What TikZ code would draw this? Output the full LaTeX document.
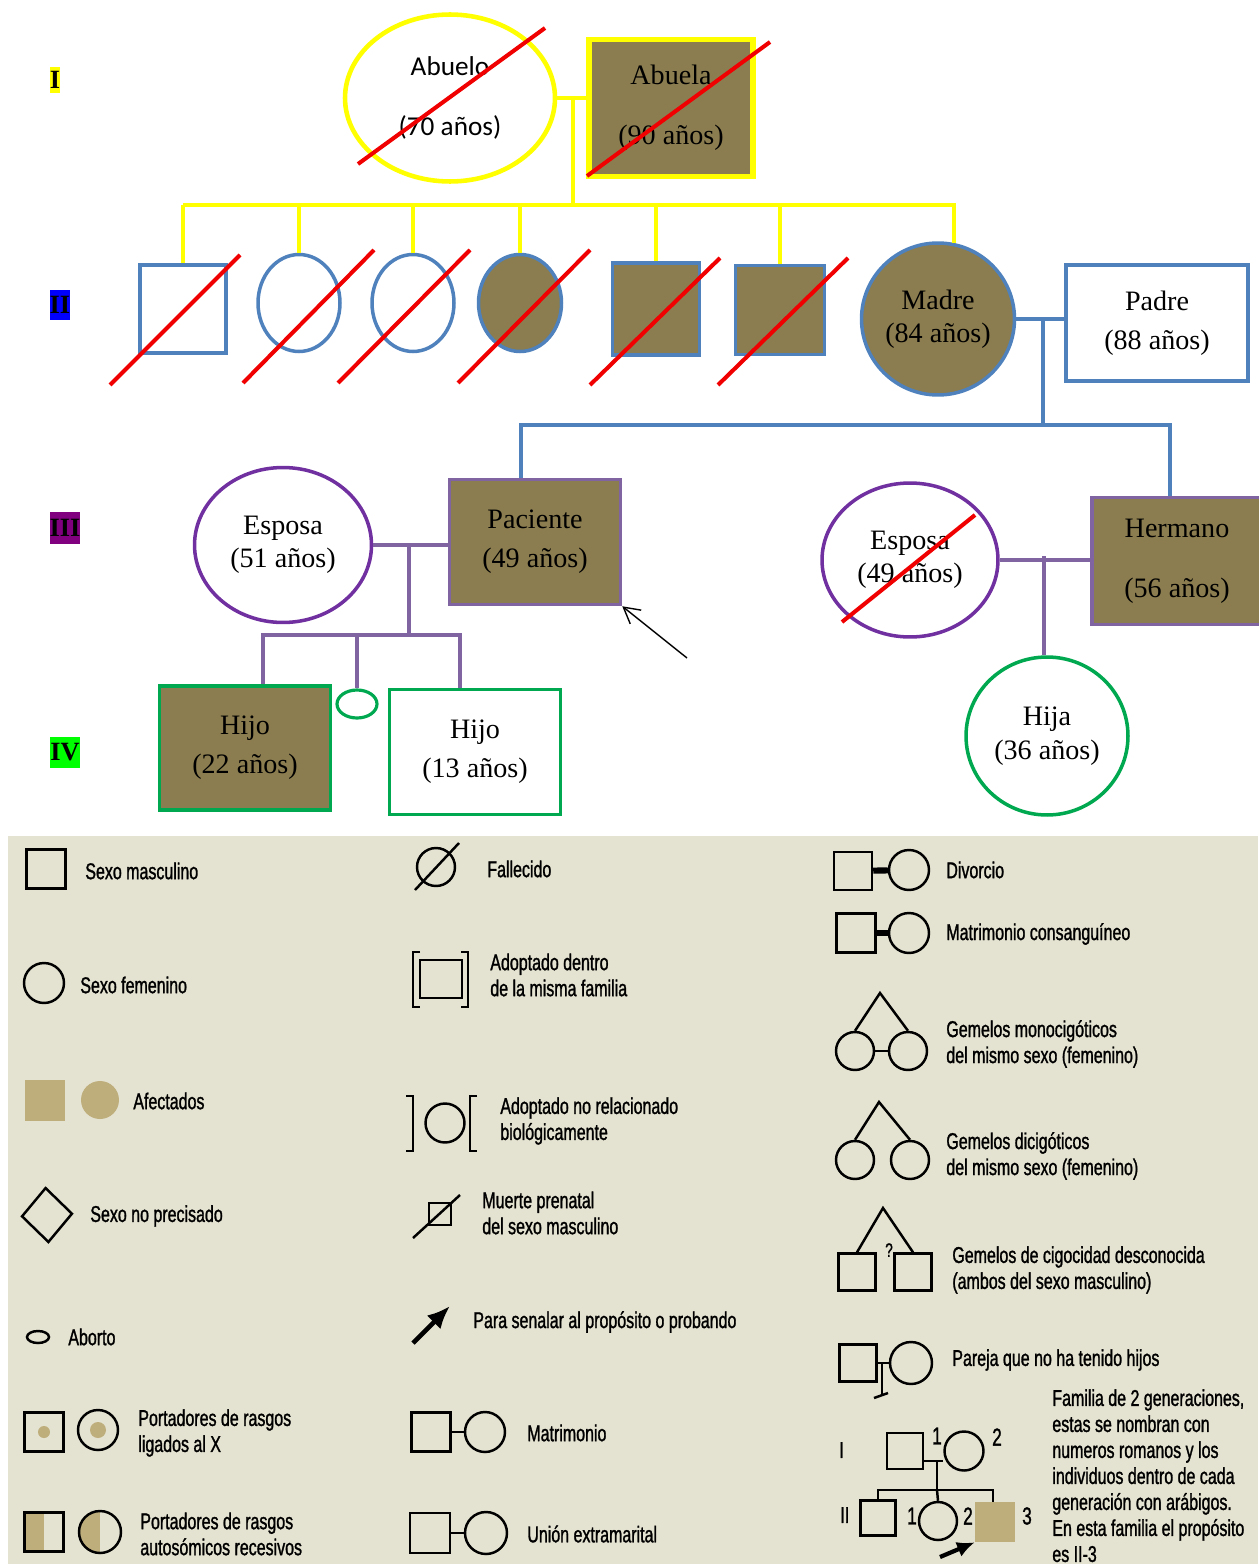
\documentclass[tikz,border=0pt]{standalone}
\usepackage{fontspec}
\usepackage{tikz}
\usetikzlibrary{positioning,arrows.meta,shapes.geometric,calc}
\newfontfamily\pedfont{Liberation Serif}
\newfontfamily\calfont{Carlito}
\newfontfamily\legfont[FakeStretch=0.7,FakeBold=1.2]{Liberation Sans}
\definecolor{affected}{HTML}{8B7D4F}
\definecolor{legtan}{HTML}{BEAE7C}
\definecolor{legbg}{HTML}{E4E2D0}
\definecolor{genone}{HTML}{FFFF00}
\definecolor{gentwo}{HTML}{4F81BD}
\definecolor{genthree}{HTML}{7030A0}
\definecolor{genthreeb}{HTML}{8064A2}
\definecolor{genfour}{HTML}{00A850}
\definecolor{deadred}{HTML}{F00000}
\definecolor{labpurple}{HTML}{800080}

\begin{document}
\begin{tikzpicture}[x=0.02cm, y=-0.02cm,
    person/.style={draw, line width=2pt, inner sep=0pt, align=center,
                   font={\pedfont\fontsize{16}{19}\selectfont}},
    sq/.style={person, rectangle},
    ov/.style={person, ellipse},
    dead/.style={deadred, line width=2.3pt},
    lnk/.style={line width=2.2pt},
    genlab/.style={inner sep=0pt, font={\pedfont\bfseries\fontsize{15}{18}\selectfont}},
    lsym/.style={draw, line width=1.4pt, inner sep=0pt},
    ltxt/.style={anchor=west, inner sep=0pt, align=left,
                 font={\legfont\fontsize{13}{14.8}\selectfont}}]
  \useasboundingbox (0,0) rectangle (1258,1564);

  % generation labels
  \node[genlab, fill=genone, minimum width=0.22cm, minimum height=0.52cm] (gI) at (55,80) {I};
  \node[genlab, fill=blue, minimum width=0.4cm, minimum height=0.6cm] (gII) at (60,305) {II};
  \node[genlab, fill=labpurple, minimum width=0.62cm, minimum height=0.64cm] (gIII) at (65,528) {III};
  \node[genlab, fill=green, minimum width=0.6cm, minimum height=0.62cm] (gIV) at (65,752) {IV};

  % generation I
  \node[ov, draw=genone, line width=2.6pt, minimum width=4.2cm, minimum height=3.34cm,
        font={\calfont\fontsize{15.5}{19}\selectfont}] (abuelo) at (450,98) {Abuelo\\[15pt](70 años)};
  \node[sq, draw=genone, fill=affected, line width=3pt, minimum width=3.28cm,
        minimum height=2.74cm] (abuela) at (671,108) {Abuela\\[15pt](90 años)};

  % generation II
  \node[sq, draw=gentwo, minimum width=1.72cm, minimum height=1.76cm] (ii1) at (183,309) {};
  \node[ov, draw=gentwo, minimum width=1.64cm, minimum height=1.94cm] (ii2) at (299,303) {};
  \node[ov, draw=gentwo, minimum width=1.64cm, minimum height=1.94cm] (ii3) at (413,303) {};
  \node[ov, draw=gentwo, fill=affected, minimum width=1.66cm, minimum height=1.94cm] (ii4) at (520,303) {};
  \node[sq, draw=gentwo, fill=affected, minimum width=1.74cm, minimum height=1.84cm] (ii5) at (656,309) {};
  \node[sq, draw=gentwo, fill=affected, minimum width=1.78cm, minimum height=1.78cm] (ii6) at (780,310) {};
  \node[ov, draw=gentwo, fill=affected, minimum width=3.06cm, minimum height=3.04cm] (madre) at (938,319) {Madre\\(84 años)};
  \node[sq, draw=gentwo, minimum width=3.64cm, minimum height=2.32cm] (padre) at (1157,323) {Padre\\[3pt](88 años)};

  % generation III
  \node[ov, draw=genthree, minimum width=3.54cm, minimum height=3.1cm] (esposa) at (283,545) {Esposa\\(51 años)};
  \node[sq, draw=genthreeb, fill=affected, minimum width=3.42cm, minimum height=2.5cm] (paciente) at (535,542) {Paciente\\[3pt](49 años)};
  \node[ov, draw=genthree, minimum width=3.52cm, minimum height=3.08cm] (esposab) at (910,560) {Esposa\\(49 años)};
  \node[sq, draw=genthreeb, fill=affected, minimum width=3.4cm, minimum height=2.54cm] (hermano) at (1177,561) {Hermano\\[15pt](56 años)};

  % generation IV
  \node[sq, draw=genfour, fill=affected, minimum width=3.42cm, minimum height=2.48cm] (hijoa) at (245,748) {Hijo\\[3pt](22 años)};
  \node[ov, draw=genfour, line width=1.8pt, minimum width=0.8cm, minimum height=0.56cm] (aborto) at (357,704) {};
  \node[sq, draw=genfour, minimum width=3.42cm, minimum height=2.5cm] (hijob) at (475,752) {Hijo\\[3pt](13 años)};
  \node[ov, draw=genfour, minimum width=3.24cm, minimum height=3.16cm] (hija) at (1047,736) {Hija\\(36 años)};

  % lines of descent
  \coordinate (mI) at (573,97);
  \coordinate (sibI) at (573,205);
  \draw[lnk, genone] (abuelo.east) -- (abuelo.east -| abuela.west);
  \draw[lnk, genone] (mI) -- (sibI);
  \draw[lnk, genone] (ii1.north |- sibI) -- (madre.78 |- sibI) -- (madre.78);
  \foreach \k in {ii1,ii2,ii3,ii4,ii5,ii6}
    \draw[lnk, genone] (\k.north |- sibI) -- (\k.north);

  \coordinate (mII) at (1043,320);
  \coordinate (sibII) at (1043,425);
  \draw[lnk, gentwo] (madre.east) -- (madre.east -| padre.west);
  \draw[lnk, gentwo] (mII) -- (sibII);
  \draw[lnk, gentwo] ([xshift=-0.28cm]paciente.north) |- (sibII) -| ([xshift=-0.14cm]hermano.north);

  \coordinate (mIII) at (409,545);
  \coordinate (sibIII) at (409,635);
  \draw[lnk, genthreeb] (esposa.east) -- (esposa.east -| paciente.west);
  \draw[lnk, genthreeb] (mIII) -- (sibIII);
  \draw[lnk, genthreeb] ([xshift=0.36cm]hijoa.north) |- (sibIII) -| ([xshift=-0.3cm]hijob.north);
  \draw[lnk, genthreeb] (aborto.north |- sibIII) -- (aborto.north);

  \coordinate (mIIIb) at (1044,556);
  \draw[lnk, genthreeb] (esposab.east) -- (esposab.east -| hermano.west);
  \draw[lnk, genthreeb] (mIIIb) -- (mIIIb |- hija.north);

  \coordinate (ptail) at (687,658);
  \draw[line width=0.8pt, -{Straight Barb[length=9pt,width=10pt]}] (ptail) -- (paciente.south east);

  \foreach \n/\a/\b/\c/\d in {abuelo/-92/66/95/-70, abuela/-84/68/99/-66, ii1/-73/76/57/-54,
      ii2/-56/80/75/-53, ii3/-75/80/57/-53, ii4/-62/80/70/-53, ii5/-66/76/64/-51,
      ii6/-62/75/68/-52, esposab/-68/62/65/-45}
    \draw[dead] ([shift={(\a,\b)}]\n.center) -- ([shift={(\c,\d)}]\n.center);

  % legend
  \fill[legbg] (8,836) rectangle (1258,1564);

  \node[lsym, minimum size=0.78cm] (lmale) at (46,869) {};
  \node[ltxt] at (85,871) {Sexo masculino};
  \node[lsym, circle, minimum size=0.8cm] (lfem) at (44,983) {};
  \node[ltxt] at (80,985) {Sexo femenino};
  \node[fill=legtan, minimum size=0.82cm, inner sep=0pt] (laffm) at (45,1100) {};
  \node[circle, fill=legtan, minimum size=0.76cm, inner sep=0pt] (laffc) at (100,1100) {};
  \node[ltxt] at (133,1101) {Afectados};
  \node[lsym, diamond, minimum width=1.02cm, minimum height=1.1cm, rotate=3] (lunk) at (47,1215) {};
  \node[ltxt] at (90,1216) {Sexo no precisado};
  \node[lsym, ellipse, minimum width=0.44cm, minimum height=0.24cm] (labort) at (38,1337) {};
  \node[ltxt] at (68,1337) {Aborto};
  \node[lsym, minimum size=0.78cm] (lxm) at (44,1432) {};
  \node[circle, fill=legtan, minimum size=0.24cm, inner sep=0pt] (lxmdot) at (lxm) {};
  \node[lsym, circle, minimum size=0.8cm] (lxf) at (98,1430) {};
  \node[circle, fill=legtan, minimum size=0.32cm, inner sep=0pt] (lxfdot) at (lxf) {};
  \node[ltxt] at (138,1433) {Portadores de rasgos\\ligados al X};
  \node[lsym, minimum size=0.78cm, path picture={\fill[legtan] (path picture bounding box.north west)
        rectangle (path picture bounding box.south);}] (lam) at (44,1532) {};
  \node[lsym, circle, minimum size=0.84cm, path picture={\fill[legtan] (path picture bounding box.north west)
        rectangle (path picture bounding box.south);}] (laf) at (100,1532) {};
  \node[ltxt] at (140,1534) {Portadores de rasgos\\autosómicos recesivos};

  \node[lsym, circle, minimum size=0.76cm] (ldead) at (436,867) {};
  \draw[line width=1.4pt] ([shift={(-21,23)}]ldead.center) -- ([shift={(23,-24)}]ldead.center);
  \node[ltxt] at (487,869) {Fallecido};
  \node[lsym, minimum width=0.84cm, minimum height=0.76cm] (ladin) at (441,979) {};
  \draw[line width=1.6pt] ([shift={(-21,-27)}]ladin.center) -| ([shift={(-28,28)}]ladin.center) -- ++(7,0);
  \draw[line width=1.6pt] ([shift={(20,-27)}]ladin.center) -| ([shift={(27,28)}]ladin.center) -- ++(-7,0);
  \node[ltxt] at (490,975) {Adoptado dentro\\de la misma familia};
  \node[lsym, circle, minimum size=0.78cm] (ladout) at (445,1123) {};
  \draw[line width=1.6pt] ([shift={(-39,-27)}]ladout.center) -| ([shift={(-32,28)}]ladout.center) -- ++(-7,0);
  \draw[line width=1.6pt] ([shift={(32,-27)}]ladout.center) -| ([shift={(25,28)}]ladout.center) -- ++(7,0);
  \node[ltxt] at (500,1121) {Adoptado no relacionado\\biológicamente};
  \node[lsym, minimum size=0.44cm] (lpre) at (440,1214) {};
  \draw[line width=1.4pt] ([shift={(-27,24)}]lpre.center) -- ([shift={(20,-19)}]lpre.center);
  \node[ltxt] at (482,1213) {Muerte prenatal\\del sexo masculino};
  \coordinate (lpa) at (413,1343);
  \coordinate (lpb) at (450,1306);
  \draw[line width=2.6pt, -{Latex[length=13pt,width=11pt]}] (lpa) -- (lpb);
  \node[ltxt] at (473,1322) {Para senalar al propósito o probando};
  \node[lsym, minimum size=0.78cm] (lmm) at (431,1432) {};
  \node[lsym, circle, minimum size=0.8cm] (lmf) at (485,1432) {};
  \draw[line width=1.4pt] (lmm) -- (lmf);
  \node[ltxt] at (527,1433) {Matrimonio};
  \node[lsym, minimum size=0.8cm] (lem) at (430,1533) {};
  \node[lsym, circle, minimum size=0.84cm] (lef) at (486,1533) {};
  \draw[line width=1.4pt] (lem) -- (lef);
  \node[ltxt] at (527,1534) {Unión extramarital};

  \node[lsym, minimum size=0.76cm] (ldm) at (853,871) {};
  \node[lsym, circle, minimum size=0.8cm] (ldf) at (909,870) {};
  \draw[line width=3.5pt] (ldm) -- (ldf);
  \node[ltxt] at (946,870) {Divorcio};
  \node[lsym, minimum size=0.78cm] (lcm) at (856,933) {};
  \node[lsym, circle, minimum size=0.8cm] (lcf) at (909,933) {};
  \draw[line width=3pt] (lcm) -- (lcf);
  \node[ltxt] at (946,934) {Matrimonio consanguíneo};

  \node[lsym, circle, minimum size=0.76cm] (lmza) at (855,1051) {};
  \node[lsym, circle, minimum size=0.76cm] (lmzb) at (908,1051) {};
  \coordinate (lmzt) at (880,993);
  \draw[line width=1.4pt] (lmza.north) -- (lmzt) -- (lmzb.north);
  \draw[line width=1.4pt] (lmza) -- (lmzb);
  \node[ltxt] at (946,1044) {Gemelos monocigóticos\\del mismo sexo (femenino)};
  \node[lsym, circle, minimum size=0.76cm] (ldza) at (855,1160) {};
  \node[lsym, circle, minimum size=0.76cm] (ldzb) at (910,1160) {};
  \coordinate (ldzt) at (879,1102);
  \draw[line width=1.4pt] (ldza.north) -- (ldzt) -- (ldzb.north);
  \node[ltxt] at (946,1156) {Gemelos dicigóticos\\del mismo sexo (femenino)};
  \node[lsym, minimum size=0.74cm] (lqza) at (857,1272) {};
  \node[lsym, minimum size=0.74cm] (lqzb) at (913,1272) {};
  \coordinate (lqzt) at (883,1208);
  \draw[line width=1.4pt] (lqza.north) -- (lqzt) -- (lqzb.north);
  \node[inner sep=0pt, font={\legfont\fontsize{11}{12}\selectfont}] (lq) at (889,1250) {?};
  \node[ltxt] at (952,1270) {Gemelos de cigocidad desconocida\\(ambos del sexo masculino)};

  \node[lsym, minimum size=0.74cm] (lnm) at (858,1363) {};
  \node[lsym, circle, minimum size=0.84cm] (lnf) at (911,1363) {};
  \coordinate (lnb) at (882,1395);
  \draw[line width=1.4pt] (lnm) -- (lnf);
  \draw[line width=1.4pt] (lnm.east -| lnb) -- (lnb);
  \draw[line width=1.4pt] ([shift={(-8,3)}]lnb) -- ([shift={(6,-2)}]lnb);
  \node[ltxt] at (952,1360) {Pareja que no ha tenido hijos};

  \node[ltxt] (fgI) at (839,1450) {I};
  \node[ltxt] (fgII) at (840,1515) {II};
  \node[lsym, minimum size=0.72cm] (fia) at (905,1451) {};
  \node[lsym, circle, minimum size=0.78cm] (fib) at (964,1451) {};
  \coordinate (fmI) at (937,1461);
  \coordinate (fsib) at (937,1490);
  \draw[line width=1.4pt] (fmI -| fia.east) -- (fmI -| fib.west);
  \draw[line width=1.4pt] (fmI) -- (fsib);
  \node[lsym, minimum size=0.7cm] (fiia) at (878,1518) {};
  \node[lsym, circle, minimum size=0.76cm] (fiib) at (938,1521) {};
  \node[fill=legtan, minimum size=0.8cm, inner sep=0pt] (fiic) at (995,1522) {};
  \draw[line width=1.4pt] (fiia.north) |- (fsib) -| ([xshift=-0.04cm]fiic.north);
  \draw[line width=1.4pt] (fsib) -- (fiib.north);
  \foreach \t/\px/\py in {1/937/1436, 2/997/1437, 1/912/1516, 2/968/1516, 3/1027/1516}
    \node[inner sep=0pt, font={\legfont\fontsize{14}{16}\selectfont}] at (\px,\py) {\t};
  \coordinate (fpa) at (940,1557);
  \draw[line width=2.4pt, -{Latex[length=10pt,width=9pt]}] (fpa) -- (fiic.south west);
  \node[ltxt, anchor=north west] (fnote) at (1052,1389) {Familia de 2 generaciones,\\estas se nombran con\\numeros romanos y los\\individuos dentro de cada\\generación con  arábigos.\\En esta familia el propósito\\es II-3};
\end{tikzpicture}
\end{document}
